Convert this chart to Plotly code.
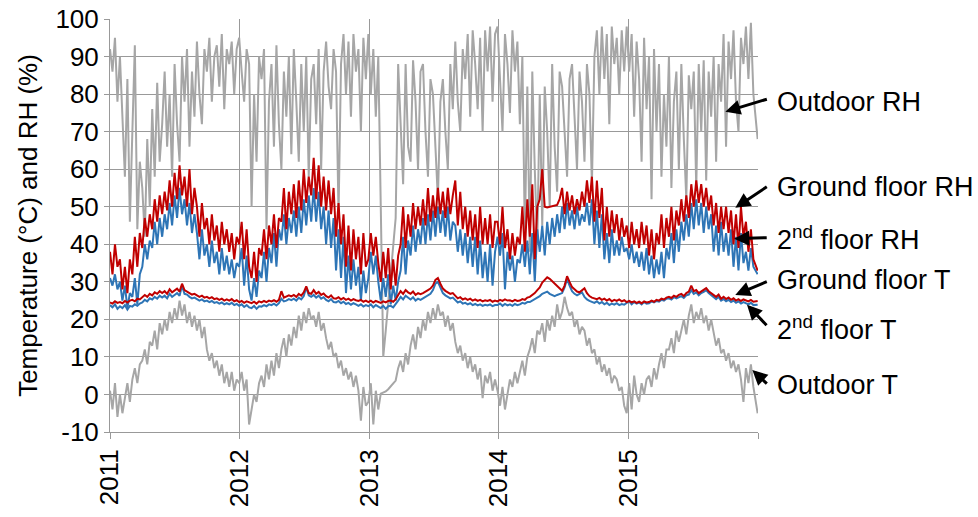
import pandas as pd
import plotly.graph_objects as go

# weekly readings, 2011-01-01 .. 2015-12-31 (52 per year + final day)
outdoor_rh = [
    92,86,95,78,90, 72,58,84,46, 70,93,44,62, 55,42,68,50, 76,58,83,62,72, 86,66,80,58, 88,72,62,90, 78,92,66,86,74, 94,80,72,92, 86,95,78,90, 93,82,96,76,92, 88,94,80,92,
    95,86,78,92,88, 50,80,62,90, 84,92,44,78, 88,66,93,72, 60,86,74,90,64, 92,78,62,88, 70,90,58,84, 88,72,92,60,86, 94,82,76,92, 86,48,88,96, 80,94,74,96,86, 92,70,95,84,
    96,80,92,74,90, 50,10,17,24, 32,40,47,88, 74,56,88,66, 62,89,78,60,86, 88,70,58,84, 80,66,52,78, 84,70,60,88,76, 94,78,70,92, 84,96,74,97, 88,76,95,70,97, 86,98,78,96,
    98,84,70,96,88, 75,97,86,94, 72,90,42,82, 38,86,60,40, 80,45,82,70,50, 88,66,54,86, 82,70,58,84, 88,74,60,86,78, 62,88,80,56, 90,97,80,98, 84,96,72,98,88, 95,80,97,86,
    98,86,96,74,94, 84,62,95,76, 90,52,92,70, 88,58,80,66, 90,55,78,86,60, 88,68,52,85, 76,86,55,88, 70,89,57,86,74, 90,62,88,78, 96,66,94,84, 97,78,70,95,88, 98,84,99,80,
    68]

ground_rh = [
    38,32,40,34,36, 28,34,27,36, 32,42,34,43, 39,47,42,48, 44,52,46,53,48, 54,49,57,50, 59,52,61,53, 58,50,60,48,55, 50,42,51,44, 47,40,48,41, 45,38,46,40,44, 38,43,36,42,
    40,46,36,44,34, 31,38,30,39, 37,44,36,45, 40,48,39,47, 46,55,44,54,48, 56,47,57,49, 60,51,58,53, 63,52,61,50,58, 49,57,48,55, 42,51,40,48, 34,45,33,44,36, 42,32,43,34,
    36,43,37,42,35, 30,38,31,39, 28,36,29,37, 40,50,39,48, 42,51,44,50,45, 52,45,55,46, 53,47,55,48, 54,47,55,48,53, 57,45,54,44, 50,42,49,41, 48,39,50,40,47, 40,48,39,46,
    46,40,50,39,44, 36,43,37,42, 40,50,38,52, 42,56,36,50, 52,60,50,49.8,50, 50.2,50.4,50.5,52, 55,48,54,49, 53,48,52,49,54, 50,57,51,58, 46,57,47,55, 41,50,42,49,43, 48,41,47,42,
    45,39,46,40,44, 39,46,40,45, 37,44,36,43, 40,48,39,47, 42,50,41,49,45, 52,46,53,47, 56,50,57,51, 56,50,55,49,53, 45,51,43,50, 44,50,43,49, 40,48,39,50,42, 46,38,44,36,
    33]

second_rh = [
    31,29,32,28,30, 25,29,23,27, 26,31,24,32, 34,40,36,41, 39,46,40,47,42, 48,44,51,45, 53,47,55,48, 52,45,51,43,48, 43,36,44,37, 40,34,41,35, 38,32,39,33,37, 32,36,31,35,
    34,39,29,37,28, 25,31,26,33, 31,38,30,39, 35,43,34,44, 41,48,40,47,43, 49,42,50,43, 52,45,53,46, 55,46,54,44,50, 40,49,39,47, 33,44,31,42, 27,37,28,36,29, 34,25,33,27,
    31,38,32,37,30, 25,31,26,32, 24,29,25,30, 33,42,32,41, 37,45,38,44,40, 47,40,48,41, 49,42,50,43, 49,42,50,41,46, 45,38,44,37, 43,35,42,34, 42,32,41,31,38, 30,40,29,38,
    42,37,43,28,38, 33,37,30,36, 35,40,34,41, 32,43,30,44, 38,45,37,46,40, 47,42,48,43, 50,44,51,45, 49,44,50,45,48, 46,51,45,52, 40,49,39,48, 36,43,35,44,37, 41,37,42,38,
    39,36,40,35,38, 34,38,33,39, 32,37,31,36, 32,38,31,39, 36,43,35,44,38, 46,41,48,42, 51,44,52,45, 51,43,50,44,48, 38,45,37,46, 38,43,37,44, 34,42,33,43,35, 38,33,39,34,
    32]

ground_t = [
    24.5,24.2,24.8,24.4,24.6, 24.3,24.9,24.5,25.0, 25.2,24.8,25.5,25.3, 25.8,26.5,26.0,26.8, 26.4,27.2,26.8,27.5,27.0, 27.5,26.8,28.0,27.2, 27.6,28.2,27.4,29.5, 27.8,27.5,27.0,26.6,26.8, 26.4,26.0,26.3,25.8, 26.0,25.6,25.9,25.4, 25.6,25.2,25.5,25.0,25.3, 25.0,25.4,24.8,25.1,
    24.6,24.9,24.4,24.8,24.5, 24.3,24.7,24.2,24.8, 24.5,24.9,24.6,25.0, 24.8,25.1,24.7,25.2, 27.5,25.8,26.0,26.4,26.1, 26.5,26.0,26.8,26.3, 27.2,28.8,27.0,26.8, 27.8,26.8,27.3,26.5,26.9, 26.2,25.8,26.4,25.6, 25.5,25.9,25.3,25.7, 25.2,25.5,25.0,25.4,25.1, 24.9,25.2,24.7,25.0,
    24.6,25.0,24.5,24.9,24.7, 24.4,24.8,24.5,24.9, 25.0,24.7,25.3,26.5, 27.5,26.8,27.8,27.2, 26.8,27.4,26.5,27.0,26.7, 27.0,27.5,27.8,28.2, 29.0,30.5,31.0,29.5, 28.2,27.6,27.2,26.8,27.0, 26.2,25.6,25.9,25.3, 25.6,25.2,25.5,25.0, 25.3,24.9,25.2,24.8,25.1, 24.9,25.2,24.7,25.0,
    24.8,25.2,24.9,25.3,25.0, 25.1,24.8,25.2,24.9, 25.0,25.4,25.2,25.8, 26.0,26.5,27.0,27.8, 28.5,29.8,30.5,31.2,30.8, 30.2,29.5,28.9,28.2, 27.6,29.0,31.5,30.0, 28.6,28.0,27.4,27.2,27.8, 28.3,27.0,26.2,25.8, 25.6,25.4,25.7,25.2, 25.5,25.0,25.4,24.8,25.2, 24.9,25.3,24.8,25.1,
    24.6,24.9,24.5,24.8,24.4, 24.7,24.3,24.8,24.5, 24.6,25.0,24.7,25.2, 25.0,25.5,25.3,25.8, 26.0,25.7,26.3,26.0,26.5, 26.8,26.2,27.0,27.4, 29.0,27.5,27.8,27.0, 27.5,27.8,28.3,27.5,27.0, 26.4,26.0,26.6,25.5, 26.0,25.4,25.8,25.2, 25.6,25.0,25.4,24.9,25.3, 25.0,24.8,25.2,24.7,
    24.9]

second_t = [
    23.8,23.2,24.0,22.8,23.5, 23.0,23.8,22.6,23.6, 23.4,24.0,23.6,24.2, 24.5,25.2,24.8,25.6, 25.3,26.0,25.5,26.3,25.8, 26.3,25.6,26.8,26.0, 26.5,27.0,26.3,29.0, 26.8,26.6,26.0,25.6,25.8, 25.4,25.0,25.3,24.8, 25.0,24.6,24.9,24.4, 24.6,24.2,24.5,24.0,24.3, 24.0,24.4,23.8,24.1,
    23.6,24.0,23.3,23.8,23.2, 23.0,23.6,22.8,23.5, 23.4,23.8,23.5,24.0, 23.8,24.2,23.7,24.3, 25.5,24.8,25.0,25.4,25.1, 25.5,25.0,25.8,25.3, 26.2,28.5,26.4,26.0, 26.5,25.8,26.3,25.5,25.9, 25.2,24.8,25.4,24.6, 24.5,24.9,24.3,24.7, 24.1,24.4,23.9,24.3,24.0, 23.6,24.0,23.4,23.8,
    23.5,24.0,23.2,23.8,23.4, 23.0,23.6,22.8,23.5, 23.6,23.2,24.0,25.0, 26.0,25.3,26.3,25.7, 25.3,25.9,25.0,25.5,25.2, 25.6,26.0,26.4,26.8, 27.8,29.5,30.0,28.3, 27.0,26.4,26.0,25.6,25.8, 25.0,24.5,24.8,24.2, 24.4,24.0,24.3,23.8, 24.1,23.7,24.0,23.6,23.9, 23.7,24.0,23.5,23.8,
    23.8,24.2,23.6,24.1,23.7, 24.0,23.6,24.1,23.8, 24.0,24.4,24.2,24.6, 24.6,25.0,25.3,25.8, 26.2,26.8,27.0,27.4,26.8, 26.6,26.2,26.5,26.8, 27.0,28.5,30.8,29.0, 27.5,26.8,26.4,26.8,27.2, 26.0,25.3,24.9,24.7, 24.4,24.8,24.2,24.6, 24.0,24.4,23.8,24.2,23.9, 24.3,23.8,24.1,23.9,
    24.4,24.8,24.0,24.6,24.2, 24.5,24.0,24.6,24.2, 24.3,24.8,24.5,24.9, 24.7,25.2,25.0,25.5, 25.6,25.3,25.9,25.6,26.0, 26.2,25.7,26.4,26.6, 27.8,26.8,27.2,26.4, 27.0,27.3,27.8,27.0,26.5, 25.9,25.4,26.0,25.0, 25.4,24.8,25.2,24.6, 25.0,24.4,24.8,24.2,24.6, 24.3,24.0,24.4,23.8,
    23.9]

outdoor_t = [
    1,-4,3,-6,0, -5,-1,3,-2, 4,7,3,8, 9,12,8,14, 13,17,12,19,16, 20,17,22,19, 23,20,25,21, 24,19,22,18,21, 17,20,15,18, 12,9,11,7, 9,5,8,3,6, 2,6,1,4,
    3,6,1,4,-8, -4,0,-2,3, 5,2,8,4, 9,5,11,7, 12,15,10,16,13, 18,15,21,17, 22,19,23,20, 21,18,22,17,19, 15,12,14,10, 11,7,9,5, 7,4,6,2,5, 1,-7,2,-3,
    -2,3,-8,1,-4, 0.2,0.4,0.8,1.4, 2.1,2.9,3.7,7, 9,6,11,8, 13,16,12,18,15, 20,17,22,19, 23,20,24,21, 22,18,21,17,19, 14,11,13,9, 11,7,10,6, 8,4,7,-1,5, 3,6,1,4,
    1,-3,2,-4,0, 4,2,6,3, 6,9,5,10, 12,15,11,17, 16,19,14,20,17, 21,18,24,20, 22,26,23,21, 22,18,20,16,18, 17,13,15,11, 12,8,10,6, 8,5,7,3,5, 4,1,2,-3,
    -5,3,-4,5,0, -2,3,0,4, 5,2,7,4, 8,11,7,12, 12,15,11,17,14, 17,20,16,21, 24,19,22,20, 23,19,21,17,20, 16,13,15,11, 12,9,11,7, 9,6,8,4,-2, 7,3,8,2,
    -5]

year_ticks = ["2011-01-01", "2012-01-01", "2013-01-01", "2014-01-01", "2015-01-01", "2016-01-01"]
year_labels = ["2011", "2012", "2013", "2014", "2015", ""]
y_ticks = [-10, 0, 10, 20, 30, 40, 50, 60, 70, 80, 90, 100]
y_labels = ["-10", "0", "10", "20", "30", "40", "50", "60", "70", "80", "90", "100"]

dates = list(pd.date_range("2011-01-01", periods=260, freq="7D")) + [pd.Timestamp("2015-12-31")]
for s in (outdoor_rh, ground_rh, second_rh, ground_t, second_t, outdoor_t):
    assert len(s) == len(dates), len(s)

GRAY = "#a6a6a6"
RED = "#c00000"
BLUE = "#2e75b6"
FONT = "Arial, Liberation Sans, sans-serif"

fig = go.Figure()
series = [
    ("Outdoor T", outdoor_t, GRAY),
    ("Outdoor RH", outdoor_rh, GRAY),
    ("2nd floor RH", second_rh, BLUE),
    ("Ground floor RH", ground_rh, RED),
    ("2nd floor T", second_t, BLUE),
    ("Ground floor T", ground_t, RED),
]
for name, vals, col in series:
    fig.add_trace(go.Scatter(x=dates, y=vals, mode="lines", name=name,
                             line=dict(color=col, width=2)))

# labels on the right with arrows
labels = [
    ("Outdoor RH", 0.800, "2015-10-01", 75.3, 43, -13),
    ("Ground floor RH", 0.594, "2015-10-29", 49.7, 33, -22),
    ("2<sup>nd</sup> floor RH", 0.470, "2015-10-26", 41.5, 34, -1),
    ("Ground floor T", 0.3685, "2015-10-29", 26.5, 33, -14),
    ("2<sup>nd</sup> floor T", 0.252, "2015-12-01", 23.9, 21, 22),
    ("Outdoor T", 0.114, "2015-12-16", 6.5, 16, 15),
]
for text, ty, hx, hy, ax, ay in labels:
    fig.add_annotation(x=1.027, y=ty, xref="paper", yref="paper", text=text,
                       showarrow=False, xanchor="left", yanchor="middle",
                       font=dict(family=FONT, size=27, color="black"))
    fig.add_annotation(x=hx, y=hy, xref="x", yref="y", text="", showarrow=True,
                       ax=ax, ay=ay, arrowhead=2, arrowsize=1, arrowwidth=3,
                       arrowcolor="black", standoff=0)

fig.update_layout(
    width=978, height=517,
    margin=dict(l=110, r=220, t=19, b=85, autoexpand=False),
    paper_bgcolor="white", plot_bgcolor="white",
    showlegend=False,
    font=dict(family=FONT, size=26, color="black"),
)
fig.update_xaxes(
    type="date", range=["2011-01-01", "2016-01-01"],
    tickmode="array", tickvals=year_ticks, ticktext=year_labels,
    tickangle=-90, showgrid=True, gridcolor="#999999", gridwidth=1,
    showline=True, linecolor="#999999", linewidth=1,
    ticks="outside", ticklen=6, tickcolor="#999999", automargin=False,
    tickfont=dict(family=FONT, size=26, color="black"), zeroline=False,
)
fig.update_yaxes(
    range=[-10, 100], tickmode="array", tickvals=y_ticks, ticktext=y_labels,
    showgrid=True, gridcolor="#999999", gridwidth=1,
    showline=True, linecolor="#999999", linewidth=1,
    ticks="outside", ticklen=5, tickcolor="#999999", automargin=False,
    tickfont=dict(family=FONT, size=26, color="black"), zeroline=False,
    title=dict(text="Temperature (°C) and RH (%)", standoff=10,
               font=dict(family=FONT, size=26, color="black")),
)

fig.write_html("out.html", config={"displayModeBar": False},
               post_script="document.body.style.margin='0px';")
